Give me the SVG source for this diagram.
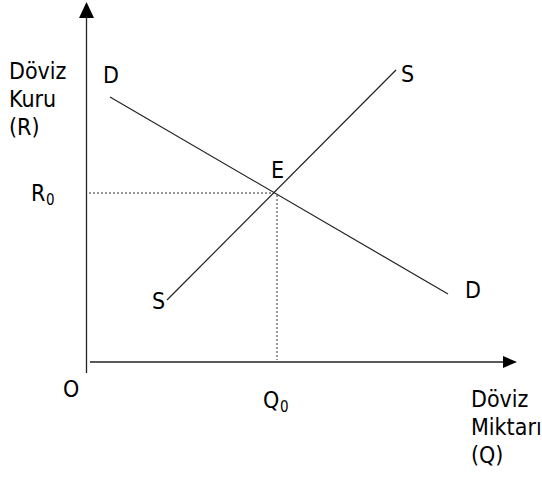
<svg xmlns="http://www.w3.org/2000/svg" width="542" height="479" viewBox="0 0 542 479">
<style>
text{font-family:"DejaVu Sans Condensed","DejaVu Sans",sans-serif;font-stretch:condensed;font-size:23px;fill:#000}
.sub{font-size:15px}
.ax{stroke:#222;stroke-width:1.3;fill:none}
.ln{stroke:#222;stroke-width:1.2;fill:none}
.dot{stroke:#333;stroke-width:1;stroke-dasharray:2 2;fill:none}
</style>
<rect width="542" height="479" fill="#fff"/>
<g id="connectors">
<line class="ax" x1="86.5" y1="16" x2="86.5" y2="373"/>
<polygon points="86.5,2 79,18 94,18" fill="#000"/>
<line class="ax" x1="90" y1="362" x2="505" y2="362"/>
<polygon points="517,362 503,356 503,368" fill="#000"/>
<line class="dot" x1="89" y1="193" x2="274" y2="193"/>
<line class="dot" x1="277" y1="195" x2="277" y2="360"/>
</g>
<g id="demand">
<line class="ln" x1="110" y1="97" x2="448" y2="294"/>
<text x="103" y="83">D</text>
<text x="465" y="298">D</text>
</g>
<g id="supply">
<line class="ln" x1="167" y1="300" x2="396" y2="70"/>
<text x="401" y="82">S</text>
<text x="152" y="309">S</text>
</g>
<g id="equilibrium">
<text x="271" y="178">E</text>
</g>
<g id="y-label">
<text x="9" y="79">Döviz</text>
<text x="9" y="107">Kuru</text>
<text x="9" y="135">(R)</text>
</g>
<g id="r0">
<text x="31" y="201">R</text><text class="sub" x="46" y="205">0</text>
</g>
<g id="origin">
<text x="63" y="397">O</text>
</g>
<g id="q0">
<text x="263" y="408">Q</text><text class="sub" x="280" y="412">0</text>
</g>
<g id="x-label">
<text x="471" y="407">Döviz</text>
<text x="471" y="435">Miktarı</text>
<text x="471" y="463">(Q)</text>
</g>
</svg>
